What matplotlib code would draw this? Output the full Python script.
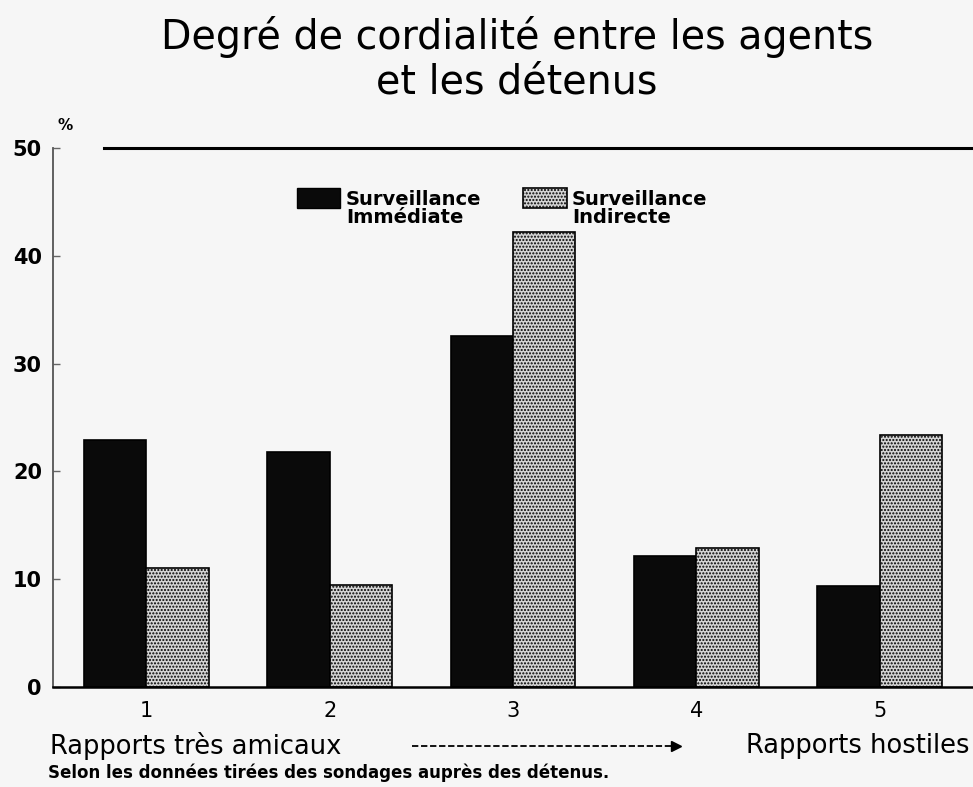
import matplotlib
matplotlib.use("Agg")
import matplotlib.pyplot as plt
import numpy as np
from matplotlib.patches import Rectangle
from matplotlib.lines import Line2D

plt.rcParams['font.family'] = ['DejaVu Sans']

categories = ["1", "2", "3", "4", "5"]
immediate = [22.9, 21.8, 32.6, 12.2, 9.4]
indirect = [11.0, 9.5, 42.2, 12.9, 23.4]
yticks = [0, 10, 20, 30, 40, 50]
series_names = ["Surveillance\nImmédiate", "Surveillance\nIndirecte"]

fig = plt.figure(figsize=(9.73, 7.87), dpi=100)
fig.patch.set_facecolor('#f6f6f6')
ax = fig.add_axes([0.0545, 0.127, 0.9455, 0.685])
ax.set_facecolor('#f6f6f6')

x = np.arange(1, len(categories) + 1)
w = 0.34
ax.bar(x - w/2, immediate, w, color='#0a0a0a', edgecolor='#000000', linewidth=1.2)
ax.bar(x + w/2, indirect, w, color='#d4d4d4', edgecolor='#000000', linewidth=1.2, hatch='.....')

ax.set_xlim(0.49, 5.51)
ax.set_ylim(0, 50)
ax.set_yticks(yticks)
ax.set_yticklabels([str(t) for t in yticks], fontsize=15, fontweight='bold')
ax.tick_params(axis='y', direction='in', length=5, width=1, color='#666666', pad=8)
ax.set_xticks(x)
ax.set_xticklabels(categories, fontsize=15)
ax.tick_params(axis='x', length=0, pad=10)

for s in ['top', 'right']:
    ax.spines[s].set_visible(False)
ax.spines['left'].set_color('#555555')
ax.spines['left'].set_linewidth(1.3)
ax.spines['bottom'].set_linewidth(1.8)
ax.axhline(50, xmin=0.055, xmax=1.0, color='black', linewidth=2.2, clip_on=False)

fig.text(57/973, 1 - 125/787, "%", fontsize=11, fontweight='bold', ha='left', va='center')

# Legend
fig.patches.append(Rectangle((297/973, 1 - 208/787), 43/973, 20/787, transform=fig.transFigure,
                             facecolor='#0a0a0a', edgecolor='black'))
fig.patches.append(Rectangle((523/973, 1 - 208/787), 44/973, 20/787, transform=fig.transFigure,
                             facecolor='#d4d4d4', edgecolor='black', hatch='.....', linewidth=1.2))
fig.text(346/973, 1 - 190/787, series_names[0], fontsize=14, fontweight='bold', va='top', ha='left', linespacing=0.95)
fig.text(572/973, 1 - 190/787, series_names[1], fontsize=14, fontweight='bold', va='top', ha='left', linespacing=0.95)

# Title
fig.text(517/973, 1 - 37/787, "Degré de cordialité entre les agents", fontsize=28.5, ha='center', va='center')
fig.text(517/973, 1 - 82/787, "et les détenus", fontsize=28.5, ha='center', va='center')

# Bottom annotations
fig.text(50/973, 1 - 746/787, "Rapports très amicaux", fontsize=18.5, ha='left', va='center')
fig.text(970/973, 1 - 746/787, "Rapports hostiles", fontsize=18.5, ha='right', va='center')
fig.add_artist(Line2D([412/973, 674/973], [1 - 746/787, 1 - 746/787], transform=fig.transFigure,
                      color='black', linestyle=(0, (3.5, 1.5)), linewidth=1.3))
fig.add_artist(Line2D([676/973], [1 - 746/787], transform=fig.transFigure, marker='>', markersize=7,
                      color='black', linestyle='none'))
fig.text(48/973, 1 - 773/787, "Selon les données tirées des sondages auprès des détenus.", fontsize=12, fontweight='bold', ha='left', va='center')

fig.savefig("out.png", dpi=100, facecolor=fig.get_facecolor())
